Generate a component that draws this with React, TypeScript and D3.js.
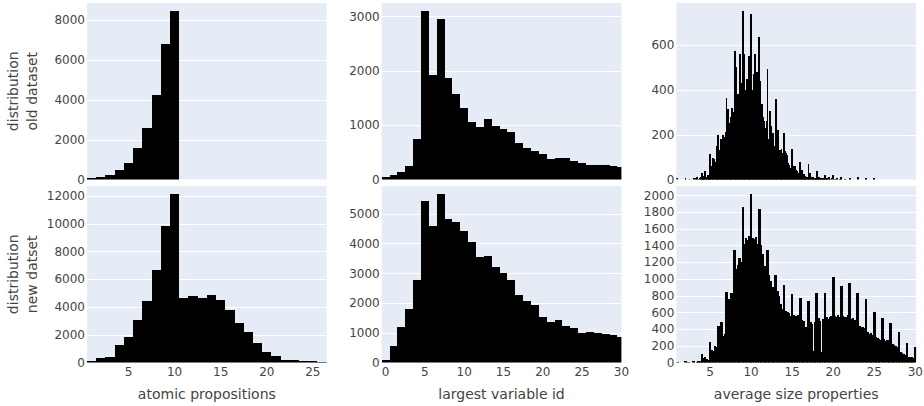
import React from 'react';
import * as d3 from 'd3';

// ---- data (bin counts) ----
// atomic propositions: bins of width 1, first bin centred on 1
const atomicOld = [30, 110, 230, 480, 820, 1590, 2600, 4240, 6780, 8420];
const atomicNew = [50, 340, 410, 1270, 1850, 3080, 4450, 6690, 9860, 12100, 4670, 4810, 4670, 4880, 4520, 3800, 2860, 2210, 1420, 770, 480, 190, 120, 50, 40, 30];

// largest variable id: bins of width 1, first bin centred on 0
const varIdOld = [40, 90, 140, 250, 740, 3090, 1920, 2950, 1865, 1570, 1320, 1055, 963, 1110, 982, 926, 871, 669, 577, 521, 466, 374, 393, 390, 337, 300, 270, 264, 260, 245, 227];
const varIdNew = [90, 565, 1186, 1797, 2768, 5424, 4599, 5650, 4836, 4712, 4407, 4034, 3559, 3593, 3198, 3006, 2780, 2260, 2056, 1921, 1525, 1356, 1412, 1220, 1175, 1006, 1040, 983, 960, 927, 847];

// average size properties (old): bins of width 0.1, first bin centred on 1.0
const avgSizeOld = [
  3, 0, 0, 0, 0, 0, 0, 0, 0, 0,
  5, 0, 0, 0, 0, 2, 0, 0, 0, 0,
  4, 0, 0, 3, 13, 0, 2, 0, 5, 8,
  28, 6, 16, 4, 36, 10, 4, 20, 12, 8,
  115, 58, 36, 73, 94, 90, 60, 80, 148, 120,
  196, 100, 130, 178, 120, 150, 200, 160, 190, 210,
  364, 275, 315, 245, 250, 245, 280, 320, 250, 300,
  573, 230, 500, 357, 380, 330, 560, 340, 430, 360,
  748, 365, 560, 395, 400, 445, 380, 550, 415, 300,
  735, 400, 380, 470, 400, 560, 380, 480, 330, 360,
  635, 439, 279, 334, 280, 245, 260, 230, 200, 260,
  491, 103, 178, 304, 240, 140, 178, 207, 150, 120,
  357, 66, 100, 222, 73, 133, 109, 136, 90, 120,
  207, 88, 125, 118, 110, 73, 66, 50, 40, 45,
  137, 36, 61, 60, 48, 43, 38, 30, 25, 20,
  80, 28, 43, 20, 24, 22, 15, 12, 10, 12,
  69, 21, 28, 10, 8, 12, 6, 5, 6, 4,
  36, 8, 6, 8, 4, 6, 3, 5, 2, 4,
  18, 3, 2, 4, 0, 13, 2, 0, 3, 0,
  18, 0, 2, 0, 0, 6, 0, 0, 2, 0,
  9, 0, 0, 0, 2, 0, 0, 0, 0, 0,
  4, 0, 0, 0, 0, 0, 0, 0, 0, 0,
  10, 0, 0, 0, 0, 0, 0, 0, 0, 0,
  6, 0, 0, 0, 0, 0, 0, 0, 0, 0,
  3,
];

// average size properties (new): bins of width 0.2, first bin centred on 1.0
const avgSizeNew = [
  3, 0, 0, 0, 0,
  6, 0, 5, 0, 0,
  8, 0, 4, 10, 12,
  96, 50, 70, 40, 30,
  250, 150, 140, 200, 180,
  440, 330, 480, 320, 340,
  845, 690, 760, 830, 590,
  1350, 1120, 1170, 1250, 1200,
  1860, 1420, 1490, 1470, 1510,
  2010, 1490, 1480, 1500, 1420,
  1840, 1400, 1300, 1150, 1000,
  1350, 1050, 980, 900, 780,
  1050, 850, 800, 700, 640,
  930, 620, 600, 590, 560,
  820, 570, 560, 470, 570,
  770, 510, 500, 420, 130,
  730, 490, 460, 140, 480,
  830, 530, 500, 120, 520,
  830, 550, 520, 540, 560,
  1020, 560, 540, 570, 550,
  916, 560, 550, 540, 570,
  956, 520, 530, 510, 500,
  828, 440, 430, 420, 410,
  756, 360, 340, 350, 330,
  608, 300, 290, 280, 270,
  528, 280, 260, 270, 240,
  468, 220, 210, 200, 190,
  360, 120, 110, 100, 90,
  228, 70, 60, 70, 50,
  188,
];

// ---- ticks & labels ----
const atomicTicks = [5, 10, 15, 20, 25];
const varIdTicks = [0, 5, 10, 15, 20, 25, 30];
const avgSizeTicks = [5, 10, 15, 20, 25, 30];
const atomicOldYTicks = [0, 2000, 4000, 6000, 8000];
const atomicNewYTicks = [0, 2000, 4000, 6000, 8000, 10000, 12000];
const varIdOldYTicks = [0, 1000, 2000, 3000];
const varIdNewYTicks = [0, 1000, 2000, 3000, 4000, 5000];
const avgSizeOldYTicks = [0, 200, 400, 600];
const avgSizeNewYTicks = [0, 200, 400, 600, 800, 1000, 1200, 1400, 1600, 1800, 2000];
const xTitles = ['atomic propositions', 'largest variable id', 'average size properties'];
const rowTitles = [['distribution', 'old dataset'], ['distribution', 'new datset']];

// bin definitions (first bin centre, bin width)
const atomicBins = [1, 1];
const varIdBins = [0, 1];
const avgOldBins = [1, 0.1];
const avgNewBins = [1, 0.2];
const colDomains = [[0.5, 26.5], [-0.5, 30], [0.9, 30.1]];
const colXTicks = [atomicTicks, varIdTicks, avgSizeTicks];

const panels = [
  { row: 0, col: 0, counts: atomicOld, bins: atomicBins, yTicks: atomicOldYTicks },
  { row: 0, col: 1, counts: varIdOld, bins: varIdBins, yTicks: varIdOldYTicks },
  { row: 0, col: 2, counts: avgSizeOld, bins: avgOldBins, yTicks: avgSizeOldYTicks },
  { row: 1, col: 0, counts: atomicNew, bins: atomicBins, yTicks: atomicNewYTicks },
  { row: 1, col: 1, counts: varIdNew, bins: varIdBins, yTicks: varIdNewYTicks },
  { row: 1, col: 2, counts: avgSizeNew, bins: avgNewBins, yTicks: avgSizeNewYTicks },
];

// ---- layout ----
const W = 924;
const H = 406;
const colLeft = [87, 381.7, 676.4];
const colWidth = 239.7;
const rowTop = [3, 186];
const rowHeight = 176.5;
const textColor = '#444';
const plotBg = '#E5ECF6';
const font = "'DejaVu Sans', Verdana, sans-serif";

// pixel snapping like plotly bars: round wide edges, expand tiny ones to stay visible
function fixpx(v: number, vc: number) {
  if (Math.abs(v - vc) >= 2) return Math.round(v);
  return v > vc ? Math.ceil(v) : Math.floor(v);
}

function Panel({ p, idx }: { p: any; idx: number }) {
  const left = colLeft[p.col];
  const top = rowTop[p.row];
  const x = d3.scaleLinear().domain(colDomains[p.col]).range([left, left + colWidth]);
  const ymax = (d3.max(p.counts as number[]) as number) * 1.05;
  const y = d3.scaleLinear().domain([0, ymax]).range([top + rowHeight, top]);
  const [start, size] = p.bins;
  const clipId = `clip-${idx}`;
  const bars = (p.counts as number[]).map((c, i) => {
    if (!c) return null;
    const cx = start + i * size;
    const ax0 = x(cx - size / 2);
    const ax1 = x(cx + size / 2);
    const ay0 = y(0);
    const ay1 = y(c);
    const x0 = fixpx(ax0, ax1);
    const x1 = fixpx(ax1, ax0);
    const yb = fixpx(ay0, ay1);
    const yt = fixpx(ay1, ay0);
    return <rect key={i} x={x0} y={yt} width={x1 - x0} height={yb - yt} fill="#000" />;
  });
  return (
    <g>
      <defs>
        <clipPath id={clipId}>
          <rect x={left} y={top} width={colWidth} height={rowHeight} />
        </clipPath>
      </defs>
      <rect x={left} y={top} width={colWidth} height={rowHeight} fill={plotBg} />
      {(p.yTicks as number[]).filter((t) => t !== 0).map((t) => (
        <line key={t} x1={left} x2={left + colWidth} y1={Math.round(y(t)) + 0.5} y2={Math.round(y(t)) + 0.5}
          stroke="#fff" strokeWidth={1} />
      ))}
      <g clipPath={`url(#${clipId})`} shapeRendering="crispEdges">{bars}</g>
      {(p.yTicks as number[]).map((t) => (
        <text key={t} x={left - 2} y={y(t)} dy="0.36em" textAnchor="end" fontSize={12} fill={textColor}>{t}</text>
      ))}
      {p.row === 1 && colXTicks[p.col].map((t) => (
        <text key={t} x={x(t)} y={top + rowHeight + 13.5} textAnchor="middle" fontSize={12} fill={textColor}>{t}</text>
      ))}
    </g>
  );
}

export default function App() {
  return (
    <svg width={W} height={H} style={{ position: 'absolute', left: 0, top: 0, background: '#fff' }} fontFamily={font}>
      <rect x={0} y={0} width={W} height={H} fill="#fff" />
      {panels.map((p, i) => <Panel key={i} p={p} idx={i} />)}
      {xTitles.map((t, c) => (
        <text key={t} x={colLeft[c] + colWidth / 2} y={399} textAnchor="middle" fontSize={14} fill={textColor}>{t}</text>
      ))}
      {rowTitles.map((lines, r) => {
        const cy = rowTop[r] + rowHeight / 2;
        return (
          <g key={r}>
            {lines.map((l, k) => (
              <text key={l} transform={`translate(${18.3 + k * 18.4},${cy}) rotate(-90)`} textAnchor="middle"
                fontSize={14} fill={textColor}>{l}</text>
            ))}
          </g>
        );
      })}
    </svg>
  );
}
